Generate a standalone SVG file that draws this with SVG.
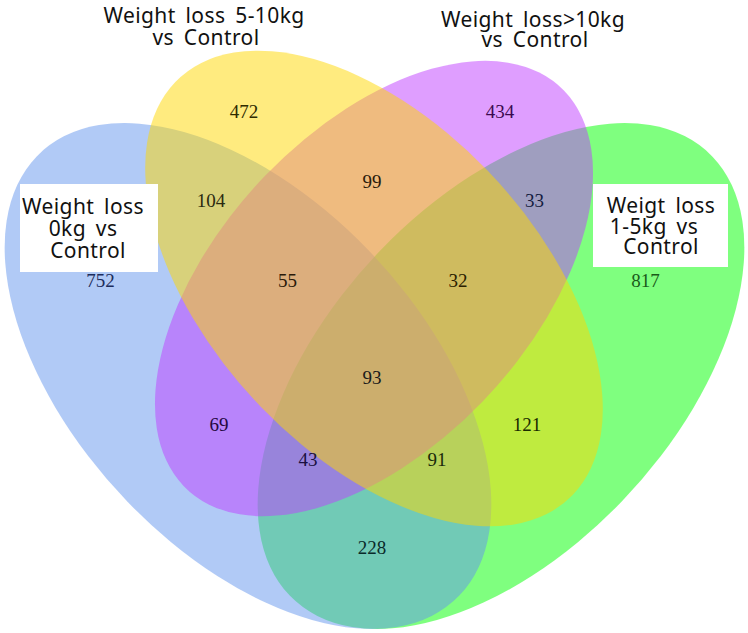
<svg xmlns="http://www.w3.org/2000/svg" width="748" height="633" viewBox="0 0 748 633">
<style>
.lbl{font-family:"Noto Sans","Open Sans","DejaVu Sans",sans-serif;font-size:21px;fill:#111;letter-spacing:0.4px;word-spacing:4px;text-anchor:middle}
.num{font-family:"Liberation Serif","Times New Roman",serif;font-size:19px;text-anchor:middle}
.box{fill:#fff}
</style>
<rect width="748" height="633" fill="#fff"/>
<g id="set-green">
<g transform="translate(501,376) scale(0.8537,0.8874) rotate(-45)"><ellipse rx="350" ry="200" fill="#00ff00" fill-opacity="0.5"/></g>
</g>
<g id="set-blue">
<g transform="translate(248,376) scale(0.8537,0.8874) rotate(45)"><ellipse rx="350" ry="200" fill="#6495ed" fill-opacity="0.5"/></g>
</g>
<g id="set-purple">
<g transform="translate(374,288.5) scale(0.7684,0.7987) rotate(-45)"><ellipse rx="350" ry="200" fill="#bf3eff" fill-opacity="0.5"/></g>
</g>
<g id="set-yellow">
<g transform="translate(374,288.5) scale(0.8027,0.8343) rotate(45)"><ellipse rx="350" ry="200" fill="#ffd700" fill-opacity="0.5"/></g>
</g>
<g id="connectors"></g>
<g id="counts">
<text class="num" x="244" y="118" fill="#2e2a00">472</text>
<text class="num" x="500" y="118" fill="#3a0a50">434</text>
<text class="num" x="211" y="207" fill="#2a2a10">104</text>
<text class="num" x="372" y="188" fill="#2a1a0a">99</text>
<text class="num" x="534.5" y="207" fill="#141c40">33</text>
<text class="num" x="100.5" y="287" fill="#1c2c5c">752</text>
<text class="num" x="287.5" y="287" fill="#2a1a0a">55</text>
<text class="num" x="458" y="287" fill="#2a2000">32</text>
<text class="num" x="645.5" y="287" fill="#1a5a1a">817</text>
<text class="num" x="372" y="384" fill="#1a1a1a">93</text>
<text class="num" x="219" y="430.5" fill="#25083f">69</text>
<text class="num" x="527" y="430.5" fill="#1a2a00">121</text>
<text class="num" x="308" y="466" fill="#1a1040">43</text>
<text class="num" x="437" y="466" fill="#1a2a0a">91</text>
<text class="num" x="372" y="554" fill="#0a2a2a">228</text>
</g>
<g id="title-5-10kg">
<text class="lbl" x="204" y="23">Weight loss 5-10kg</text>
<text class="lbl" x="206" y="44.5">vs Control</text>
</g>
<g id="title-over-10kg">
<text class="lbl" x="533" y="26.5">Weight loss&gt;10kg</text>
<text class="lbl" x="535" y="47">vs Control</text>
</g>
<g id="label-0kg">
<rect class="box" x="20" y="184" width="138" height="88"/>
<text class="lbl" x="83" y="214">Weight loss</text>
<text class="lbl" x="83" y="236">0kg vs</text>
<text class="lbl" x="88" y="257.5">Control</text>
</g>
<g id="label-1-5kg">
<rect class="box" x="593" y="184" width="135" height="83"/>
<text class="lbl" x="661" y="213">Weigt loss</text>
<text class="lbl" x="654" y="233.5">1-5kg vs</text>
<text class="lbl" x="661" y="253.5">Control</text>
</g>
</svg>
